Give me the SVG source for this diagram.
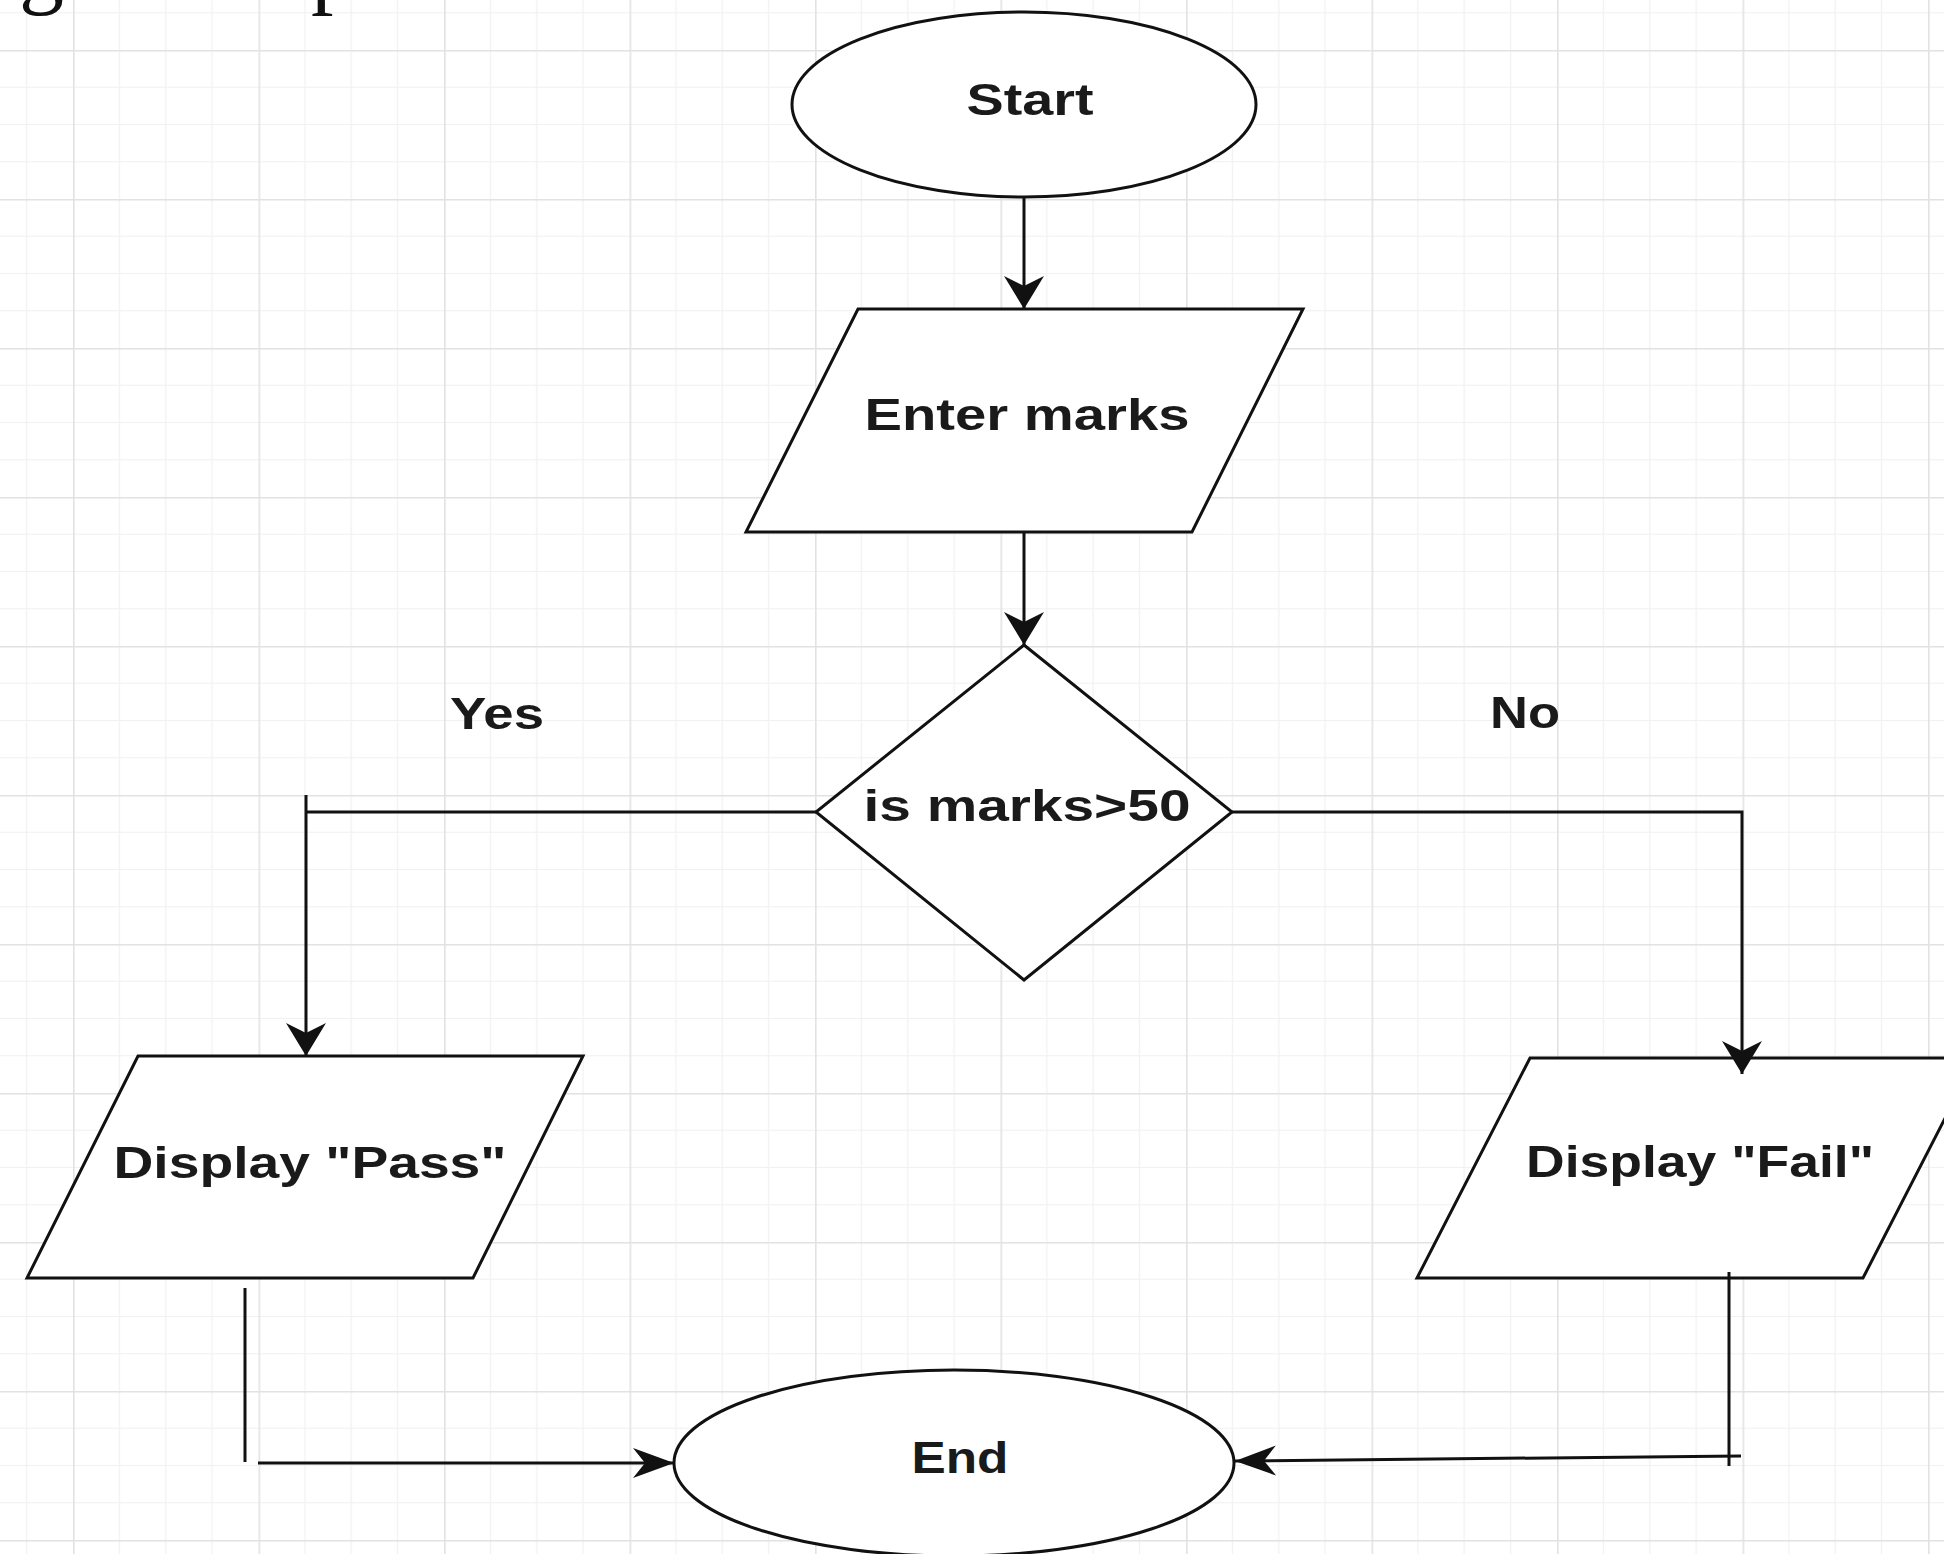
<svg xmlns="http://www.w3.org/2000/svg" width="1944" height="1554" viewBox="0 0 1944 1554">
  <defs>
    <style>
      .shape { fill: #ffffff; stroke: #111111; stroke-width: 3; }
      .wire { fill: none; stroke: #111111; stroke-width: 3; }
      .lbl { font-family: "Liberation Sans", Arial, Helvetica, sans-serif; font-weight: bold; font-size: 44px; fill: #1a1a1a; text-anchor: middle; }
      .head { font-family: "Liberation Serif", "Times New Roman", serif; font-size: 90px; fill: #111111; }
      .major { stroke: #e2e2e2; stroke-width: 1.6; }
      .minor { stroke: #f1f1f1; stroke-width: 1.2; }
    </style>
    <!-- background grid: major cell with quarter subdivisions -->
    <pattern id="grid" patternUnits="userSpaceOnUse" x="73" y="50" width="185.5" height="149">
      <rect width="185.5" height="149" fill="#ffffff"/>
      <line class="minor" x1="46.4" y1="0" x2="46.4" y2="149"/>
      <line class="minor" x1="92.75" y1="0" x2="92.75" y2="149"/>
      <line class="minor" x1="139.1" y1="0" x2="139.1" y2="149"/>
      <line class="minor" x1="0" y1="37.25" x2="185.5" y2="37.25"/>
      <line class="minor" x1="0" y1="74.5" x2="185.5" y2="74.5"/>
      <line class="minor" x1="0" y1="111.75" x2="185.5" y2="111.75"/>
      <line class="major" x1="0.8" y1="0" x2="0.8" y2="149"/>
      <line class="major" x1="0" y1="0.8" x2="185.5" y2="0.8"/>
    </pattern>
    <marker id="headV" viewBox="-35 -22 37 44" markerWidth="37" markerHeight="44" refX="0" refY="0" orient="auto" markerUnits="userSpaceOnUse">
      <path d="M0,0 L-33,-20 L-23,0 L-33,20 Z" fill="#111111"/>
    </marker>
    <marker id="headH" viewBox="-43 -17 45 34" markerWidth="45" markerHeight="34" refX="0" refY="0" orient="auto" markerUnits="userSpaceOnUse">
      <path d="M0,0 L-41,-15 L-29,0 L-41,15 Z" fill="#111111"/>
    </marker>
  </defs>

  <rect width="1944" height="1554" fill="url(#grid)"/>

  <!-- descenders of the page heading above the canvas -->
  <g id="heading">
    <text class="head" x="19" y="-3">g</text>
    <text class="head" x="311" y="-3">p</text>
  </g>

  <g id="start">
    <ellipse class="shape" cx="1024" cy="104.5" rx="232" ry="92.5"/>
    <text class="lbl" x="1030" y="115" textLength="127" lengthAdjust="spacingAndGlyphs">Start</text>
  </g>

  <g id="enter-marks">
    <polygon class="shape" points="858,309 1303,309 1192,532 746,532"/>
    <text class="lbl" x="1027" y="430" textLength="325" lengthAdjust="spacingAndGlyphs">Enter marks</text>
  </g>

  <g id="decision">
    <polygon class="shape" points="1024,645 1232,812 1024,980 816,812"/>
    <text class="lbl" x="1027" y="821" textLength="327" lengthAdjust="spacingAndGlyphs">is marks&gt;50</text>
  </g>

  <g id="label-yes">
    <text class="lbl" x="497" y="729" textLength="94" lengthAdjust="spacingAndGlyphs">Yes</text>
  </g>

  <g id="label-no">
    <text class="lbl" x="1525" y="728" textLength="70" lengthAdjust="spacingAndGlyphs">No</text>
  </g>

  <g id="display-pass">
    <polygon class="shape" points="138,1056 583,1056 473,1278 27,1278"/>
    <text class="lbl" x="310" y="1178" textLength="393" lengthAdjust="spacingAndGlyphs">Display "Pass"</text>
  </g>

  <g id="display-fail">
    <polygon class="shape" points="1530,1058 1976,1058 1863,1278 1417,1278"/>
    <text class="lbl" x="1700" y="1177" textLength="348" lengthAdjust="spacingAndGlyphs">Display "Fail"</text>
  </g>

  <g id="end">
    <ellipse class="shape" cx="954" cy="1463" rx="280" ry="93"/>
    <text class="lbl" x="960" y="1473" textLength="97" lengthAdjust="spacingAndGlyphs">End</text>
  </g>

  <!-- flow lines drawn over the shapes so heads stay visible -->
  <g id="connectors">
    <path class="wire" d="M1024,197 V309" marker-end="url(#headV)"/>
    <path class="wire" d="M1024,532 V645" marker-end="url(#headV)"/>
    <path class="wire" d="M816,812 H306"/>
    <path class="wire" d="M306,795 V1056" marker-end="url(#headV)"/>
    <path class="wire" d="M1232,812 H1742 V1074" marker-end="url(#headV)"/>
    <path class="wire" d="M245,1288 V1462"/>
    <path class="wire" d="M258,1463 H674" marker-end="url(#headH)"/>
    <path class="wire" d="M1729,1272 V1466"/>
    <path class="wire" d="M1741,1456 L1235,1461" marker-end="url(#headH)"/>
  </g>
</svg>
